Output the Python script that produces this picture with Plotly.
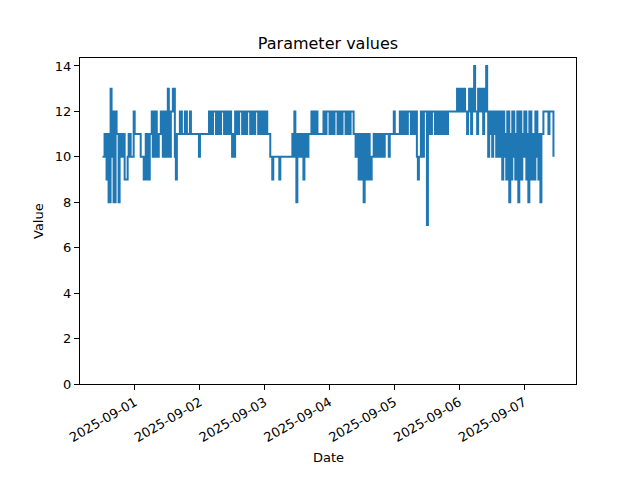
import pandas as pd
import plotly.graph_objects as go

start_time = "2025-08-31 12:00"
sample_step = "1338s"

# runs of [value, number of samples], in time order
runs_aug31 = [[10, 2], [11, 2], [9, 1], [11, 1], [8, 2], [13, 1], [10, 1], [12, 1], [8, 2],
              [12, 1], [11, 2], [8, 1], [11, 2], [10, 2], [11, 1], [9, 3], [10, 1], [11, 2],
              [10, 3], [12, 1]]
runs_sep01 = [[11, 6], [10, 3], [9, 2], [11, 2], [9, 2], [11, 2], [12, 1], [10, 2], [12, 2],
              [10, 2], [11, 2], [12, 2], [10, 2], [12, 1], [10, 2], [13, 1], [10, 2], [12, 2],
              [13, 2], [10, 1], [9, 1], [11, 3], [12, 2], [11, 3], [12, 2], [11, 3], [12, 1],
              [11, 8], [10, 1]]
runs_sep02 = [[11, 9], [12, 2], [11, 2], [12, 3], [11, 1], [12, 2], [11, 2], [12, 3], [11, 2],
              [12, 2], [11, 1], [12, 2], [11, 1], [10, 1], [11, 1], [10, 1], [12, 2], [11, 2],
              [12, 3], [11, 1], [12, 2], [11, 2], [12, 3], [11, 2], [12, 2], [11, 1], [12, 3],
              [11, 2], [12, 2], [11, 1], [12, 2], [11, 1]]
runs_sep03 = [[12, 1], [11, 3], [10, 2], [9, 1], [10, 6], [9, 1], [10, 12], [11, 1], [10, 1],
              [12, 1], [11, 1], [8, 1], [11, 2], [10, 2], [11, 2], [9, 1], [10, 1], [11, 2],
              [10, 1], [11, 3], [12, 1], [11, 1], [12, 2], [11, 1], [12, 1], [11, 6]]
runs_sep04 = [[12, 2], [11, 1], [12, 3], [11, 2], [12, 2], [11, 1], [12, 3], [11, 2], [12, 2],
              [11, 1], [12, 3], [11, 2], [12, 2], [11, 1], [12, 3], [11, 2], [10, 2], [11, 1],
              [9, 2], [11, 2], [9, 1], [8, 1], [11, 2], [9, 2], [11, 1], [9, 2], [10, 2],
              [11, 2], [10, 2], [11, 2], [10, 2], [11, 2], [10, 1], [11, 4], [10, 1], [11, 4]]
runs_sep05 = [[12, 1], [11, 5], [12, 2], [11, 2], [12, 2], [11, 2], [12, 3], [11, 2], [12, 2],
              [11, 1], [12, 1], [10, 1], [9, 1], [10, 2], [12, 2], [10, 1], [12, 3], [7, 1],
              [12, 2], [11, 2], [12, 3], [11, 1], [12, 2], [11, 2], [12, 2], [11, 2], [12, 2],
              [11, 2], [12, 9], [13, 1], [12, 1]]
runs_sep06 = [[13, 2], [12, 2], [13, 2], [12, 2], [11, 1], [12, 1], [13, 2], [11, 1], [13, 1],
              [12, 1], [14, 1], [12, 2], [11, 1], [13, 2], [12, 1], [13, 2], [11, 1], [13, 1],
              [12, 1], [14, 1], [12, 1], [10, 1], [12, 2], [11, 1], [10, 1], [12, 2], [11, 1],
              [10, 1], [12, 2], [10, 1], [12, 2], [9, 1], [12, 1], [10, 1], [11, 1], [9, 1],
              [12, 2], [8, 1], [11, 1], [9, 1], [12, 2], [10, 1], [9, 1], [11, 1], [12, 1],
              [8, 1], [10, 1], [12, 1], [9, 1], [11, 1]]
runs_sep07 = [[10, 1], [12, 2], [9, 1], [11, 1], [8, 1], [12, 2], [9, 1], [11, 2], [9, 1],
              [12, 2], [10, 1], [9, 1], [11, 1], [8, 1], [11, 2], [12, 5], [11, 1], [12, 4],
              [10, 1]]

all_runs = (runs_aug31 + runs_sep01 + runs_sep02 + runs_sep03 + runs_sep04
            + runs_sep05 + runs_sep06 + runs_sep07)
values = [v for v, n in all_runs for _ in range(n)]
dates = pd.date_range(start_time, periods=len(values), freq=sample_step)

y_ticks = [0, 2, 4, 6, 8, 10, 12, 14]
x_ticks = pd.date_range("2025-09-01", "2025-09-07", freq="D")
x_tick_labels = [d.strftime("%Y-%m-%d") for d in x_ticks]

span = dates[-1] - dates[0]
x_range = [dates[0] - 0.05 * span, dates[-1] + 0.05 * span]
y_range = [0, max(values) + 0.05 * (max(values) - min(values))]

fig = go.Figure()
fig.add_trace(go.Scatter(x=dates, y=values, mode="lines",
                         line=dict(color="#1f77b4", width=2, shape="hv"),
                         showlegend=False))

font = "DejaVu Sans"
# the page body adds an 8px offset, so margins are trimmed to compensate
fig.update_layout(
    width=640, height=480, autosize=False,
    margin=dict(l=72, r=72, t=50, b=104),
    paper_bgcolor="white", plot_bgcolor="white",
    font=dict(family=font, size=13, color="black"),
    title=dict(text="Parameter values", x=0.5, xref="paper", xanchor="center",
               y=1 - 35 / 480, yref="container", yanchor="middle",
               font=dict(family=font, size=16, color="black")),
)
fig.update_xaxes(range=x_range, tickvals=list(x_ticks), ticktext=x_tick_labels,
                 tickangle=-30, ticks="outside", ticklen=5, tickwidth=1,
                 tickcolor="black", showline=True, linecolor="black", linewidth=1,
                 mirror=True, showgrid=False, zeroline=False,
                 tickfont=dict(family=font, size=13, color="black"))
fig.update_yaxes(range=y_range, tickvals=y_ticks, ticks="outside", ticklen=5,
                 tickwidth=1, tickcolor="black", showline=True, linecolor="black",
                 linewidth=1, mirror=True, showgrid=False, zeroline=False,
                 tickfont=dict(family=font, size=13, color="black"))
fig.add_annotation(text="Date", xref="paper", x=0.5, yref="paper",
                   y=-(457 - 384) / 326, yanchor="middle", showarrow=False,
                   font=dict(family=font, size=13, color="black"))
fig.add_annotation(text="Value", xref="paper", x=-(80 - 38) / 496, xanchor="center",
                   yref="paper", y=0.5, yanchor="middle", textangle=-90,
                   showarrow=False, font=dict(family=font, size=13, color="black"))

fig.write_html("out.html")
